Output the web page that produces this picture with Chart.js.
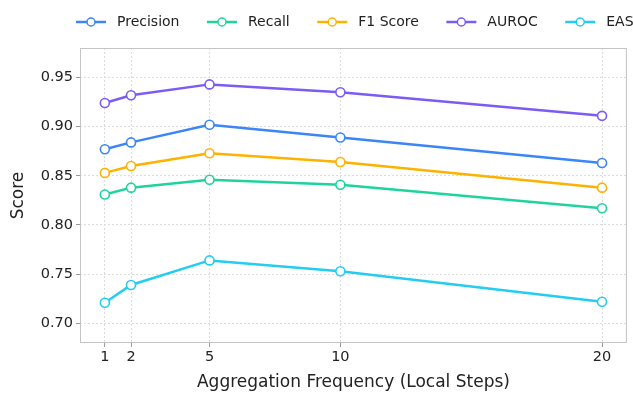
<!DOCTYPE html>
<html>
<head>
<meta charset="utf-8">
<script src="https://cdn.jsdelivr.net/npm/chart.js@4.4.1/dist/chart.umd.min.js"></script>
<style>
  html, body { margin: 0; padding: 0; background: #ffffff; }
  #wrap { width: 633px; height: 394px; position: relative; }
</style>
</head>
<body>
<div id="wrap"><canvas id="scoreChart"></canvas></div>
<script>
// Aggregation frequency (local steps) on the x axis
const localSteps = [1, 2, 5, 10, 20];
const xTicks = [1, 2, 5, 10, 20];
const yTicks = [0.70, 0.75, 0.80, 0.85, 0.90, 0.95];

// Series values
const precision = [0.877, 0.884, 0.902, 0.889, 0.863];
const recall = [0.831, 0.838, 0.846, 0.841, 0.817];
const f1Score = [0.853, 0.860, 0.873, 0.864, 0.838];
const auroc = [0.924, 0.932, 0.943, 0.935, 0.911];
const eas = [0.721, 0.739, 0.764, 0.753, 0.722];

const seriesNames = ['Precision', 'Recall', 'F1 Score', 'AUROC', 'EAS'];
const seriesColors = ['#3b86f7', '#1fd49c', '#fdb200', '#7a5cf5', '#23cdf0'];
const seriesValues = [precision, recall, f1Score, auroc, eas];

const fontFamily = '"DejaVu Sans", sans-serif';

function toPoints(values) {
    return values.map((v, i) => ({ x: localSteps[i], y: v }));
}

const datasets = seriesNames.map((name, i) => ({
    label: name,
    data: toPoints(seriesValues[i]),
    borderColor: seriesColors[i],
    backgroundColor: '#ffffff',
    borderWidth: 2.5,
    pointRadius: 4.5,
    pointHoverRadius: 4.5,
    pointBorderWidth: 1.6,
    pointBackgroundColor: '#ffffff',
    pointBorderColor: seriesColors[i],
    tension: 0
}));

// Frame round the plot area, and a one-row legend (it runs off the right edge like the source)
const framePlugin = {
    id: 'frameAndLegend',
    afterDraw(chart) {
        const { ctx, chartArea } = chart;
        ctx.save();
        ctx.strokeStyle = '#c4c4c4';
        ctx.lineWidth = 1;
        ctx.strokeRect(chartArea.left + 0.5, chartArea.top + 0.5,
                       chartArea.right - chartArea.left - 1, chartArea.bottom - chartArea.top - 1);

        ctx.font = '14px ' + fontFamily;
        ctx.textBaseline = 'middle';
        let x = 76;
        const y = 22;
        seriesNames.forEach((name, i) => {
            ctx.strokeStyle = seriesColors[i];
            ctx.lineWidth = 2.5;
            ctx.beginPath();
            ctx.moveTo(x, y);
            ctx.lineTo(x + 30, y);
            ctx.stroke();
            ctx.beginPath();
            ctx.arc(x + 15, y, 4, 0, Math.PI * 2);
            ctx.fillStyle = '#ffffff';
            ctx.fill();
            ctx.lineWidth = 1.5;
            ctx.stroke();
            ctx.fillStyle = '#222222';
            ctx.fillText(name, x + 41, y);
            x += 41 + ctx.measureText(name).width + 27.5;
        });
        ctx.restore();
    }
};

new Chart(document.getElementById('scoreChart').getContext('2d'), {
    type: 'line',
    data: { datasets: datasets },
    options: {
        responsive: true,
        maintainAspectRatio: false,
        animation: false,
        layout: { padding: { left: 0, right: 5, top: 48, bottom: 0 } },
        plugins: {
            legend: { display: false },
            tooltip: { enabled: false }
        },
        scales: {
            x: {
                type: 'linear',
                min: 0.05,
                max: 20.95,
                afterBuildTicks(axis) { axis.ticks = xTicks.map(v => ({ value: v })); },
                afterFit(axis) { axis.height = 51; },
                grid: {
                    color: '#dcdcdc',
                    lineWidth: 1,
                    tickLength: 4,
                    tickColor: '#9a9a9a',
                    drawOnChartArea: true
                },
                border: { display: false, dash: [2, 2] },
                ticks: {
                    color: '#222222',
                    padding: 2,
                    font: { family: fontFamily, size: 14.5 },
                    maxRotation: 0,
                    autoSkip: false
                },
                title: {
                    display: true,
                    text: 'Aggregation Frequency (Local Steps)',
                    color: '#222222',
                    font: { family: fontFamily, size: 17 },
                    padding: { top: 1, bottom: 1 }
                }
            },
            y: {
                min: 0.68,
                max: 0.98,
                afterBuildTicks(axis) { axis.ticks = yTicks.map(v => ({ value: v })); },
                afterFit(axis) { axis.width = 80; },
                grid: {
                    color: '#dcdcdc',
                    lineWidth: 1,
                    tickLength: 4,
                    tickColor: '#9a9a9a'
                },
                border: { display: false, dash: [2, 2] },
                ticks: {
                    color: '#222222',
                    padding: 3,
                    font: { family: fontFamily, size: 14.5 },
                    callback: v => v.toFixed(2)
                },
                title: {
                    display: true,
                    text: 'Score',
                    color: '#222222',
                    font: { family: fontFamily, size: 17 },
                    padding: { top: 8, bottom: 0 }
                }
            }
        }
    },
    plugins: [framePlugin]
});
</script>
</body>
</html>
